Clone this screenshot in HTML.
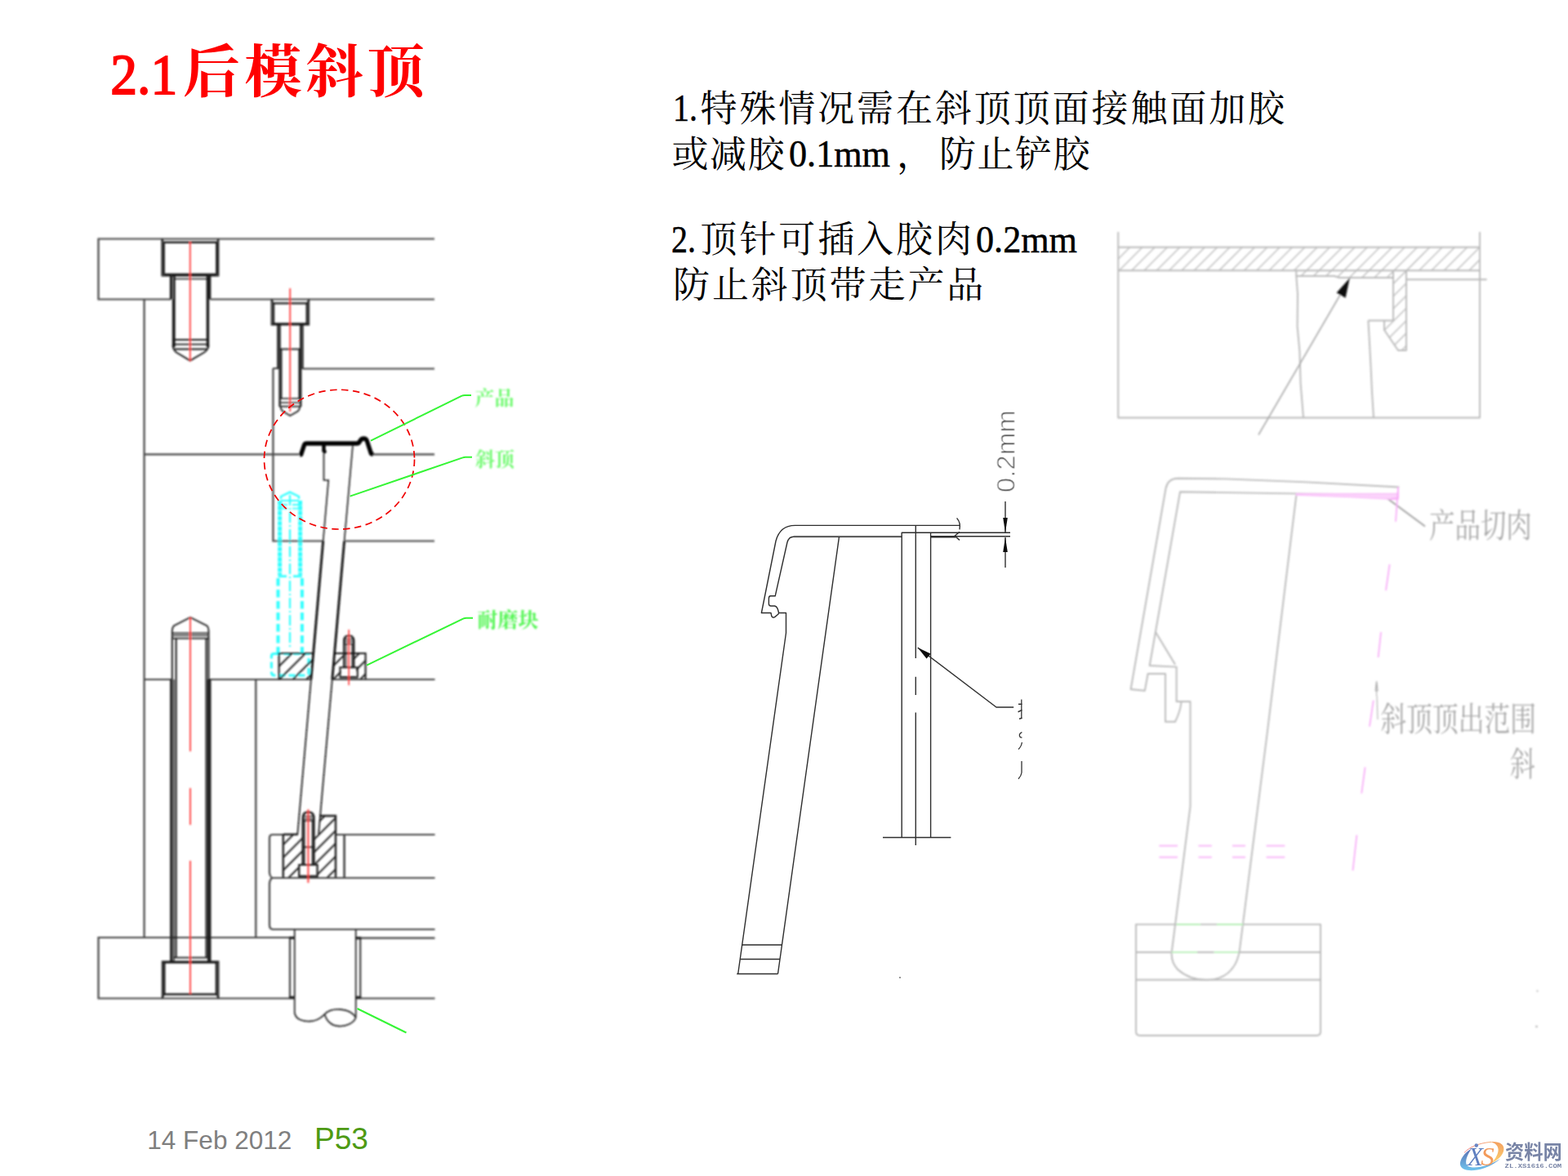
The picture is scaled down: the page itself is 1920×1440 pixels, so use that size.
<!DOCTYPE html>
<html><head><meta charset="utf-8"><title>2.1</title>
<style>
html,body{margin:0;padding:0;background:#fff;}
body{width:1920px;height:1440px;overflow:hidden;font-family:"Liberation Sans",sans-serif;}
svg{display:block;position:absolute;left:0;top:0;}
text{white-space:pre;}
</style></head><body>
<svg width="1920" height="1440" viewBox="0 0 1920 1440">
<defs>
<clipPath id="h1"><path d="M341.6,800 H383.5 L380.8,832 H341.6 Z"/></clipPath>
<clipPath id="h2"><path d="M410.5,800 H447.6 V832 H407.6 Z M417.6,817.6 V832 H436 V817.6 H432.6 V800 H422.4 V817.6 Z"/></clipPath>
<clipPath id="h3"><path d="M346.4,1021.6 H370.5 V1059 H366 V1074.3 H346.4 Z M384.6,1021.6 H390.3 L391,999 H411 V1074.3 H388.8 V1059 H384.6 Z"/></clipPath>
<filter id="bl1" x="-5%" y="-5%" width="110%" height="110%"><feGaussianBlur stdDeviation="0.8"/></filter>
<filter id="bl2" x="-5%" y="-5%" width="110%" height="110%"><feGaussianBlur stdDeviation="0.85"/></filter>
<filter id="bl3" x="-5%" y="-5%" width="110%" height="110%"><feGaussianBlur stdDeviation="0.5"/></filter>
<clipPath id="h4"><path d="M1369.2,302.7 H1812 V331.2 H1722 V429 H1712 L1695,404 V392.5 H1706 V340 H1640 L1634,338 H1587.3 V331.2 H1369.2 Z"/></clipPath>
<filter id="bl4" x="-5%" y="-5%" width="110%" height="110%"><feGaussianBlur stdDeviation="0.9"/></filter>
<linearGradient id="lgB" x1="0" y1="0" x2="0" y2="1"><stop offset="0" stop-color="#5a6db0"/><stop offset="1" stop-color="#6fc4ee"/></linearGradient>
<linearGradient id="lgO" x1="0" y1="0" x2="0" y2="1"><stop offset="0" stop-color="#f4a060"/><stop offset="1" stop-color="#fbd070"/></linearGradient>
<linearGradient id="lgR" x1="0" y1="0" x2="1" y2="0"><stop offset="0" stop-color="#f07070"/><stop offset="1" stop-color="#f6a868"/></linearGradient>
<filter id="bl5" x="-5%" y="-5%" width="110%" height="110%"><feGaussianBlur stdDeviation="0.45"/></filter>

</defs>
<rect width="1920" height="1440" fill="#ffffff"/>
<text x="224.1" y="113" font-family="'Liberation Serif','Noto Serif CJK SC',serif" font-weight="bold" font-size="70" fill="#ff0000" textLength="296" lengthAdjust="spacing">后模斜顶</text>
<text x="135.3" y="115.3" font-family="Liberation Serif" font-size="69.5" fill="#ff0000" stroke="#ff0000" stroke-width="1.8" textLength="82" lengthAdjust="spacingAndGlyphs">2.1</text>
<text x="824" y="148.3" font-family="Liberation Serif" font-size="45.5" fill="#000" stroke="#000" stroke-width="0.5" textLength="30" lengthAdjust="spacingAndGlyphs">1.</text>
<text x="857.5" y="148.5" font-family="'Liberation Serif','Noto Serif CJK SC',serif" font-size="45" fill="#000" textLength="715.6" lengthAdjust="spacing">特殊情况需在斜顶顶面接触面加胶</text>
<text x="822.5" y="204.5" font-family="'Liberation Serif','Noto Serif CJK SC',serif" font-size="45" fill="#000" textLength="138" lengthAdjust="spacing">或减胶</text>
<text x="966" y="204.3" font-family="Liberation Serif" font-size="45.5" fill="#000" stroke="#000" stroke-width="0.5" textLength="124" lengthAdjust="spacingAndGlyphs">0.1mm</text>
<text x="1098" y="204.5" font-family="'Liberation Serif','Noto Serif CJK SC',serif" font-size="45" fill="#000">，</text>
<text x="1150" y="204.5" font-family="'Liberation Serif','Noto Serif CJK SC',serif" font-size="45" fill="#000" textLength="184.5" lengthAdjust="spacing">防止铲胶</text>
<text x="822" y="308.5" font-family="Liberation Serif" font-size="45.5" fill="#000" stroke="#000" stroke-width="0.5" textLength="30" lengthAdjust="spacingAndGlyphs">2.</text>
<text x="857.5" y="308.5" font-family="'Liberation Serif','Noto Serif CJK SC',serif" font-size="45" fill="#000" textLength="332.4" lengthAdjust="spacing">顶针可插入胶肉</text>
<text x="1195" y="308.5" font-family="Liberation Serif" font-size="45.5" fill="#000" stroke="#000" stroke-width="0.5" textLength="124" lengthAdjust="spacingAndGlyphs">0.2mm</text>
<text x="824" y="365" font-family="'Liberation Serif','Noto Serif CJK SC',serif" font-size="45" fill="#000" textLength="380.3" lengthAdjust="spacing">防止斜顶带走产品</text>
<text x="180.3" y="1407.2" font-family="Liberation Sans" font-size="31.6" fill="#7f7f7f" textLength="177" lengthAdjust="spacingAndGlyphs">14 Feb 2012</text>
<text x="385" y="1407.2" font-family="Liberation Sans" font-size="37" fill="#4e9a14" textLength="66" lengthAdjust="spacingAndGlyphs">P53</text>
<g filter="url(#bl1)"><g fill="none" stroke="#444" stroke-width="2.21"><path d="M532,292.5 H120.5 V366.5 H209 M257.5,366.5 H532"/><path d="M176.6,366.5 V1148"/><path d="M370.8,451.5 H532 M334.4,451 H340 M334.4,451 V662.5 H395.6 M423,662.5 H532"/><path d="M176.6,556.3 H366.5 M456,556.3 H532"/><path d="M176.6,832 H210 M256,832 H380.5 M407.5,832 H532.5"/><path d="M313.3,832 V1148"/><path d="M360.7,1148 H120.5 V1222.5 H360.7 M435.7,1148.6 H532.5 M435.7,1222.5 H532.5"/><path d="M355,1148 V1222.5 M441.2,1148 V1222.5"/><path d="M365,1022 H334 Q330,1022 330,1026 V1069 Q330,1072 333,1075 Q330,1078 330,1082 V1133 Q330,1138 335,1138 H532.5"/><path d="M411,1022 H532.5 M333,1075 H532.5"/><path d="M421.6,1022 V1075" stroke-width="2.60"/></g>
<path d="M354,1146.8 h7 v3.2 h-7 Z M354,1219.8 h7 v3.2 h-7 Z M435.6,1147 h6.6 v3.2 h-6.6 Z M435.6,1219.8 h6.6 v3.2 h-6.6 Z" fill="#222"/>
<g fill="none" stroke="#262626" stroke-width="1.76"><path d="M360.7,1138 V1240 C362,1249 372,1251 380,1250.5 C390,1250 394,1245 397.5,1242 C402,1237 410,1235.5 417,1236 C427,1237 433,1241 435.7,1246 M435.7,1138 V1246 C433,1253 424,1257 415,1256.5 C406,1256 400,1250 397.5,1242"/></g>
<g fill="none" stroke="#1a1a1a" stroke-width="2.08"><path d="M198.4,292.5 V337.5 H267.4 V292.5" stroke-width="1.82"/><path d="M200.6,296.8 H265.4 M200.6,296.8 V336 M265.4,296.8 V336 M200.6,336 H265.4" stroke-width="2.60"/><path d="M198.4,292.5 L200.6,296.8 M267.4,292.5 L265.4,296.8" stroke-width="1.30"/><path d="M209.6,337.5 V366.5 M256.6,337.5 V366.5" stroke-width="3.38"/><path d="M213.4,337.5 V425 M254,337.5 V425" stroke-width="2.60"/><path d="M211.6,366.5 V425 M255.4,366.5 V425" stroke-width="1.56"/><path d="M213.4,341.5 H254" stroke-width="1.30"/><path d="M211.6,416 H255.4 M211.6,421.6 H255.4 M213.4,427.5 H254" stroke-width="1.95"/><path d="M211.6,423 Q211.8,428 216,431.5 L232.8,441.6 L250,431.5 Q255,428 255.4,423" stroke-width="1.95"/></g>
<path d="M232.8,295.8 V442.5" stroke="#ff3c3c" stroke-width="1.82" fill="none"/>
<g fill="none" stroke="#1a1a1a" stroke-width="1.95"><path d="M332.6,366.5 V397.5 H378.2 V366.5" stroke-width="1.82"/><path d="M335,371.3 H375.8 V396.5 H335 Z" stroke-width="2.34"/><path d="M332.6,366.5 L335,371.3 M378.2,366.5 L375.8,371.3" stroke-width="1.30"/><path d="M340.2,397.5 V452 M370.6,397.5 V452" stroke-width="2.08"/><path d="M342.6,397.5 V498 M368.2,397.5 V498" stroke-width="2.34"/><path d="M342.6,427.5 H368.2" stroke-width="1.82"/><path d="M344.6,427.5 V488 M366.2,427.5 V488" stroke-width="1.56"/><path d="M342.6,488 H368.2 M342.6,493 H368.2 M342.6,497.6 H368.2" stroke-width="1.69"/><path d="M343.5,498 Q343.8,502 347,504 L355.2,509 L364,504 Q367,502 367.3,498" stroke-width="1.69"/></g>
<path d="M355.2,353 V504" stroke="#ff3c3c" stroke-width="1.82" fill="none"/>
<g fill="none" stroke="#3ff" stroke-width="2.86"><path d="M344,611 V608 L355,602.6 L366,608 V611" stroke-width="2.34"/><path d="M342.6,613 V704 M367.6,613 V704" stroke-dasharray="5.4 0.9" stroke-width="4.94"/><path d="M344,613 H366 M341.5,618 H352 M358,618 H368.5 M341.5,622.6 H352 M358,622.6 H368.5" stroke-width="1.95"/><path d="M340.6,705.6 H351 M359,705.6 H369.8" stroke-width="2.60"/><path d="M340.5,708 V800 M369.9,708 V800" stroke-dasharray="9.5 4.5" stroke-width="4.03"/><path d="M355,606 V792" stroke-dasharray="13 3 2 3" stroke-width="2.21"/><path d="M335.4,800.5 H378 V823 Q378,827 374,827 H336 Q332.4,827 332.4,823 V803.5 Q332.4,800.5 335.4,800.5 Z" stroke-dasharray="8 4" stroke-width="3.12"/></g>
<path clip-path="url(#h1)" d="M309.0,832 l32,-32 M325.5,832 l32,-32 M342.0,832 l32,-32 M358.5,832 l32,-32 M375.0,832 l32,-32" stroke="#222" stroke-width="1.95" fill="none"/>
<path d="M341.6,832 V800 H383.6" fill="none" stroke="#1a1a1a" stroke-width="2.08"/>
<path clip-path="url(#h2)" d="M375.0,832 l32,-32 M391.5,832 l32,-32 M408.0,832 l32,-32 M424.5,832 l32,-32 M441.0,832 l32,-32" stroke="#222" stroke-width="1.95" fill="none"/>
<g fill="none" stroke="#1a1a1a" stroke-width="2.08"><path d="M410.4,800 H447.6 V832"/><path d="M416.4,817.2 H437.8 V829.4 H416.4 Z" stroke-width="1.95"/><path d="M417.6,829 H436" stroke-width="1.82"/><path d="M421.2,817.6 V785 Q421.2,778.4 427.2,778.4 Q433.2,778.4 433.2,785 V817.6" stroke-width="2.34"/><path d="M424,817 V788 M431,817 V788" stroke-width="1.30"/><path d="M421.2,782.5 H433.2 M421.2,785.5 H433.2 M421.2,788.5 H433.2" stroke-width="1.30"/></g>
<path d="M427.2,771 V839" stroke="#ff3c3c" stroke-width="1.69" fill="none"/>
<g fill="none" stroke="#1a1a1a" stroke-width="2.08"><path d="M210.8,781 V772 Q211,768 213,766.2 L233,756 L253.4,766.2 Q255.3,768 255.5,772 V781" stroke-width="1.82"/><path d="M210.8,775.2 H255.5 M210.8,778 H255.5 M210.8,781.6 H255.5" stroke-width="1.56"/><path d="M210.8,781 V832 M255.5,781 V832" stroke-width="1.95"/><path d="M215.6,781.6 V1172 M252.6,781.6 V1172" stroke-width="2.08"/><path d="M209.6,832 V1177.5" stroke-width="2.86"/><path d="M212.6,832 V1177.5" stroke-width="1.82"/><path d="M256.2,832 V1177.5" stroke-width="4.42"/><path d="M213,1172.6 H254" stroke-width="1.56"/><path d="M198.8,1222.5 V1177.5 H267.4 V1222.5" stroke-width="1.95"/><path d="M201.2,1178.4 H265 V1217.6 H201.2 Z" stroke-width="2.47"/><path d="M201.2,1217.6 L198.8,1222.5 M265,1217.6 L267.4,1222.5" stroke-width="1.30"/></g>
<path d="M233,756 V920 M233,965 V1010 M233,1054 V1217" stroke="#ff3c3c" stroke-width="1.82" fill="none"/>
<path clip-path="url(#h3)" d="M274.7,1075 l76,-76 M290.4,1075 l76,-76 M306.1,1075 l76,-76 M321.8,1075 l76,-76 M337.5,1075 l76,-76 M353.2,1075 l76,-76 M368.9,1075 l76,-76 M384.6,1075 l76,-76 M400.3,1075 l76,-76" stroke="#222" stroke-width="1.95" fill="none"/>
<g fill="none" stroke="#1a1a1a" stroke-width="2.08"><path d="M346.8,1021.6 V1074.3 M391,999 H411 V1074.3" stroke-width="2.34"/><path d="M346.8,1021.6 H364.5"/><path d="M366.2,1059 H388.6 V1072.8 H366.2 Z" stroke-width="2.21"/><path d="M370.8,1059 V1001.5 Q370.8,994.4 377.5,994.4 Q384.4,994.4 384.4,1001.5 V1059" stroke-width="2.47"/><path d="M373,1059 V1004 M382.4,1059 V1004" stroke-width="1.30"/><path d="M371,999.5 H384 M371,1002.5 H384 M371,1005 H384" stroke-width="1.56"/><path d="M371,1037.3 H384.4" stroke-width="1.69"/></g>
<path d="M377.4,991 V1081" stroke="#ff3c3c" stroke-width="1.95" fill="none"/>
<g fill="none" stroke="#111"><path d="M396.5,555 V588 H402.2 L395.7,662.5 M431.9,546 L421.6,662.5" stroke-width="1.62" stroke="#1c1c1c"/><path d="M395.7,662.5 L380.9,832 M421.6,662.5 L406.8,832" stroke-width="2.86"/><path d="M380.9,832 L364.3,1022 M406.8,832 L390.1,1021.6" stroke-width="1.69"/></g>
<path d="M367,557 L368.6,556.6 L372.6,544.6 Q373.4,543 375.4,543 H437 Q439.4,543 440.8,540 Q442.4,537 445.4,537 Q448.4,537 449.4,540 L454.4,555.4 L457,556.4" fill="none" stroke="#000" stroke-width="5.33" stroke-linejoin="round"/>
<path d="M396.5,544 V553.5" fill="none" stroke="#000" stroke-width="4.42"/><circle cx="397.6" cy="553" r="2.2" fill="#000"/></g>
<ellipse cx="415.5" cy="562.6" rx="92" ry="85.4" fill="none" stroke="#f00000" stroke-width="1.7" stroke-dasharray="8.5 5.5" filter="url(#bl3)"/>
<g filter="url(#bl3)"><g fill="none" stroke="#35f535" stroke-width="2.0" stroke-linejoin="round"><path d="M454,539.6 L565.6,484.6 Q567,484 569,484 H577"/><path d="M428.6,607.6 L566.6,560.4 Q568,559.8 570,559.8 H578"/><path d="M449,814.6 L567.6,757.4 Q569,756.8 571,756.8 H579"/><path d="M437.5,1235 L497.5,1264.5"/></g></g>
<g filter="url(#bl2)"><text x="581.5" y="495.5" font-family="'Liberation Serif','Noto Serif CJK SC',serif" font-weight="bold" font-size="24" fill="#70fa70" textLength="48" lengthAdjust="spacing">产品</text><text x="582" y="570.5" font-family="'Liberation Serif','Noto Serif CJK SC',serif" font-weight="bold" font-size="24" fill="#70fa70" textLength="48" lengthAdjust="spacing">斜顶</text></g>
<g filter="url(#bl1)"><text x="584.5" y="768" font-family="'Liberation Serif','Noto Serif CJK SC',serif" font-weight="bold" font-size="25" fill="#52f552" textLength="75" lengthAdjust="spacing">耐磨块</text></g>
<g filter="url(#bl3)"><g fill="none" stroke="#2e2e2e" stroke-width="1.4" stroke-linejoin="round"><path d="M1175,643.4 H973.5 Q955,643.4 950,662.5 L932.4,750.5 H944 L944.8,754.4 Q946,757 948.6,755.6 L953,752 L953.6,750.5 H962.5 V775"/><path d="M1104,657.2 H971.5 Q966,657.2 964,664 L949.2,729.8 H943.4 Q941.4,730 941.4,733 V739.6 Q941.4,742 944,742 H948.6 Q951,742.4 952.4,746 L953.6,750.5"/><path d="M1104,656.2 H972" stroke-width="0.7" stroke="#888"/><path d="M962.5,775 L903.7,1192.5 M1027.5,657.3 L952.5,1192.5"/><path d="M908.7,1157 H957.4 M906.3,1174.5 H955.0 M902.2,1192.5 H952.5"/><path d="M1104.2,1025.5 V652.2 H1237 M1139.6,1025.5 V652.2 M1139.6,656.8 H1237 M1139.6,657.8 H1170" /><path d="M1081,1025.5 H1164.4"/><path d="M1121.3,643.4 V806 M1121.3,828.7 V851 M1121.3,872.5 V1035"/><path d="M1171.6,634.4 Q1176.6,640 1175,648.4 M1175,651.4 L1169,656.2 L1175,661.4"/><path d="M1231,614 V652 M1231,658 V695"/><path d="M1123.7,793 L1220,866 H1241.2"/></g>
<g fill="#111" stroke="none"><path d="M1231,652 L1228.2,634 H1233.8 Z M1231,658 L1228.2,676 H1233.8 Z"/><path d="M1123.7,793 L1139.6,800.4 L1134.6,806.6 Z"/></g>
<g fill="none" stroke="#333" stroke-width="1.3" stroke-linecap="butt"><path d="M1250.8,856.6 V880"/><path d="M1247,862.2 H1251.4 M1246.6,871.8 L1251.4,869.4 M1248,880.2 L1251.4,879.2" stroke-width="1.6"/><path d="M1251.4,896.6 Q1248,898 1248.4,901 Q1249,903.4 1251.4,903"/><path d="M1247,917.4 Q1250.4,914.6 1251.4,909"/><path d="M1251,932 V946 Q1250.4,950.4 1247,953.8"/></g>
<circle cx="1102" cy="1197" r="0.9" fill="#666"/>
<text transform="translate(1242.6 603.2) rotate(-90)" font-family="Liberation Sans" font-size="30.5" fill="#5a5a5a" textLength="101" lengthAdjust="spacingAndGlyphs" stroke="#fff" stroke-width="0.9">0.2mm</text></g>
<g filter="url(#bl4)"><path clip-path="url(#h4)" d="M1241.0,430 l128,-128 M1256.3,430 l128,-128 M1271.6,430 l128,-128 M1286.9,430 l128,-128 M1302.2,430 l128,-128 M1317.5,430 l128,-128 M1332.8,430 l128,-128 M1348.1,430 l128,-128 M1363.4,430 l128,-128 M1378.7,430 l128,-128 M1394.0,430 l128,-128 M1409.3,430 l128,-128 M1424.6,430 l128,-128 M1439.9,430 l128,-128 M1455.2,430 l128,-128 M1470.5,430 l128,-128 M1485.8,430 l128,-128 M1501.1,430 l128,-128 M1516.4,430 l128,-128 M1531.7,430 l128,-128 M1547.0,430 l128,-128 M1562.3,430 l128,-128 M1577.6,430 l128,-128 M1592.9,430 l128,-128 M1608.2,430 l128,-128 M1623.5,430 l128,-128 M1638.8,430 l128,-128 M1654.1,430 l128,-128 M1669.4,430 l128,-128 M1684.7,430 l128,-128 M1700.0,430 l128,-128 M1715.3,430 l128,-128 M1730.6,430 l128,-128 M1745.9,430 l128,-128 M1761.2,430 l128,-128 M1776.5,430 l128,-128 M1791.8,430 l128,-128 M1807.1,430 l128,-128" stroke="#c4c4c4" stroke-width="1.6" fill="none"/>
<g fill="none" stroke="#bababa" stroke-width="1.9" stroke-linejoin="round"><path d="M1369.2,284 V511.5 H1812 V284"/><path d="M1369.2,302.7 H1812 M1369.2,331.2 H1812"/><path d="M1587.3,331.2 V338 H1634 L1640,340 H1706"/><path d="M1706,331.2 V392.5 H1675.4 M1706,392.5 H1695 V404 L1712,429 H1722 V331.2"/><path d="M1722,342.3 H1820.6"/><path d="M1587.3,338 L1589,360 L1588.6,400 L1591.4,430 L1592.6,470 L1596,511.5"/><path d="M1675.4,392.5 L1677,420 L1678.6,450 L1680,480 L1682,511.5"/><path d="M1652.7,341 L1541,532.5" stroke="#a8a8a8" stroke-width="1.5"/></g>
<path d="M1652.7,340.6 L1647.6,364.8 L1636.6,358.4 Z" fill="#111"/>
<g fill="none" stroke="#bababa" stroke-width="1.9" stroke-linejoin="round"><path d="M1713.3,596.5 L1600,590.4 L1500,586.4 L1442,585.7 Q1430,586 1427.5,598 L1384.6,844 L1401.8,845.8 L1405.6,825 H1427 V883.7 H1439 Q1445,872 1446.5,860"/><path d="M1712,605.4 L1600,604.6 L1445,602.3 L1407.7,815 L1440.6,816.6 V859 H1457.5 V987.5 L1434.8,1165.4 Q1433.6,1178 1442,1187 Q1456,1199.6 1477,1200 Q1498,1199.6 1508,1187 Q1516,1178 1518,1162.5 L1551.4,900 L1587.3,606.7"/><path d="M1415,774 L1439,813.7"/><path d="M1391,1131.9 H1617 V1263 Q1617,1268 1612,1268 H1396 Q1391,1268 1391,1263 Z M1391,1166 H1617 M1391,1199.8 H1617"/><path d="M1697,609 L1745,644.6" stroke="#a0a0a0"/><path d="M1685.6,836 V852 M1686,852 L1687,881" stroke="#a8a8a8" stroke-width="1"/><path d="M1685.6,834 L1684,846 H1687.2 Z" stroke="#999" stroke-width="0.8"/></g>
<g fill="none" stroke="#f8aef8" stroke-width="1.8"><path d="M1587,604.6 L1712,604.4 V611.8 L1697,611 L1650,608.6 L1587,606.2 Z" stroke-width="0.9" fill="#fbd3fb"/><path d="M1712,596.5 V610 L1703,611"/><path d="M1712,596.5 L1709,638.7 M1701.6,691 L1697,723 M1691,774 L1687.6,805 M1681.8,857.6 L1677,889.6 M1671.6,939.4 L1667.2,971.5 M1661.4,1022.5 L1656.5,1066"/><path d="M1419.3,1035.6 H1442 M1467.5,1035.6 H1483.8 M1509,1035.6 H1525 M1550.6,1035.6 H1573.3 M1419.3,1049.6 H1442 M1467.5,1049.6 H1483.8 M1509,1049.6 H1525 M1550.6,1049.6 H1573.3"/></g>
<g fill="none" stroke="#fff" stroke-width="2.6"><path d="M1440.6,1131.9 H1469.8 M1490,1131.9 H1522 M1434.8,1166 H1466 M1486.7,1166 H1516.4"/></g>
<g fill="none" stroke="#a4eca4" stroke-width="1.6"><path d="M1440.6,1131.9 H1469.8 M1490,1131.9 H1522 M1434.8,1166 H1466 M1486.7,1166 H1516.4"/></g>
<circle cx="1882.5" cy="1213.5" r="1" fill="#aaa"/><circle cx="1881.5" cy="1257" r="1.2" fill="#aaa"/>
<text x="1750" y="658" font-family="'Liberation Serif','Noto Serif CJK SC',serif" font-size="41" fill="#a9a9a9" textLength="125.8" lengthAdjust="spacingAndGlyphs">产品切肉</text>
<text x="1690.5" y="894.5" font-family="'Liberation Serif','Noto Serif CJK SC',serif" font-size="41" fill="#a9a9a9" textLength="190.5" lengthAdjust="spacingAndGlyphs">斜顶顶出范围</text>
<text x="1849" y="950" font-family="'Liberation Serif','Noto Serif CJK SC',serif" font-size="41" fill="#a9a9a9" textLength="31" lengthAdjust="spacingAndGlyphs">斜</text></g>
<g filter="url(#bl5)"><path d="M1802,1406.5 C1793,1411.5 1787.3,1420 1788,1426 C1789.3,1434 1803,1435 1817,1430.5 C1826,1427.5 1833,1422.5 1837.5,1418.5 C1831,1423 1823,1426.8 1814,1428.6 C1803.5,1430.6 1795.6,1429.6 1795.2,1424 C1794.8,1418.5 1798,1412 1802,1406.5 Z" fill="url(#lgB)"/>
<path d="M1825,1398.2 C1836,1397.2 1842,1401.5 1841.4,1407.5 C1840.8,1414 1835,1420 1826.6,1424 C1831.6,1418.5 1834.8,1412.5 1834.6,1407.5 C1834.4,1402.4 1830.5,1399.4 1825,1398.2 Z" fill="url(#lgO)"/>
<path d="M1793,1411.5 C1799,1405 1809,1400 1826,1398.3" fill="none" stroke="url(#lgR)" stroke-width="0.9"/>
<circle cx="1807.8" cy="1402.6" r="2.3" fill="#6b86c4"/>
<text x="1797" y="1427.2" font-family="Liberation Serif" font-style="italic" font-size="32.5" fill="#5f7fc0" textLength="19" lengthAdjust="spacingAndGlyphs">X</text>
<text x="1813.3" y="1427.2" font-family="Liberation Serif" font-style="italic" font-size="32.5" fill="#f39a5a" textLength="16.5" lengthAdjust="spacingAndGlyphs">S</text>
<text x="1843" y="1419" font-family="'Liberation Sans','Noto Sans CJK SC',sans-serif" font-weight="bold" font-size="24" fill="#7884a6" textLength="69.8" lengthAdjust="spacingAndGlyphs">资料网</text>
<text x="1842.6" y="1429.6" font-family="Liberation Mono" font-weight="bold" font-size="8" fill="#7884a6" textLength="69.5" lengthAdjust="spacingAndGlyphs">ZL.XS1616.COM</text></g>
</svg>
</body></html>
